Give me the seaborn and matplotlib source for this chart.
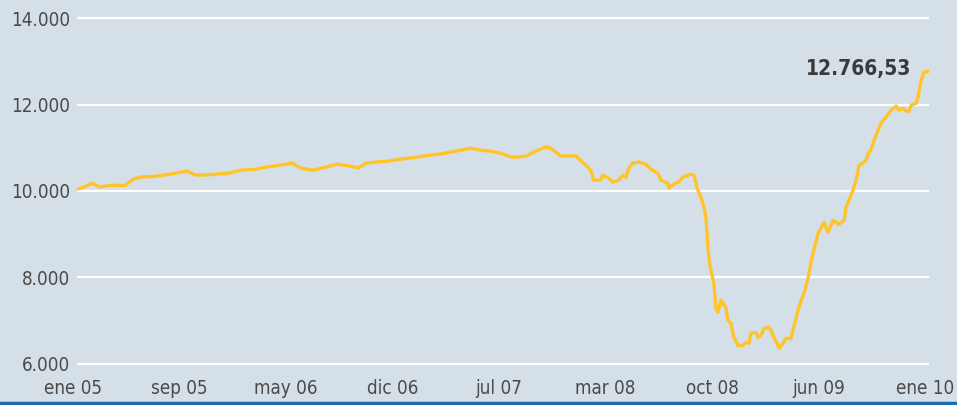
import pandas as pd
import matplotlib.pyplot as plt
import matplotlib.transforms as mtransforms
import seaborn as sns
from matplotlib.lines import Line2D

# datos (mes desde ene 05, valor del indice)
meses = [0.00, 0.56, 1.06, 1.62, 2.33, 3.39, 3.95, 4.44, 5.50, 6.56, 7.76, 8.32,
         9.03, 10.65, 11.50, 12.55, 13.26, 14.32, 15.16, 15.73, 16.64, 17.49,
         18.27, 19.25, 19.82, 20.31, 21.02, 21.86, 22.78, 23.84, 24.89, 25.95,
         27.01, 27.72, 28.42, 29.13, 29.83, 30.18, 30.68, 31.59, 32.30, 33.00,
         33.36, 33.71, 34.06, 35.12, 35.47, 35.83, 36.18, 36.39, 36.88, 37.02,
         37.45, 37.73, 38.15, 38.43, 38.65, 38.86, 39.14, 39.56, 40.06, 40.41,
         40.90, 41.11, 41.61, 41.68, 42.03, 42.38, 42.67, 43.23, 43.44, 43.72,
         43.94, 44.15, 44.29, 44.43, 44.50, 44.64, 44.85, 44.99, 45.13, 45.35,
         45.70, 45.84, 46.05, 46.26, 46.54, 46.90, 47.11, 47.32, 47.46, 47.81,
         47.95, 48.17, 48.38, 48.73, 48.87, 49.08, 49.37, 49.44, 49.72, 49.93,
         50.28, 50.42, 50.78, 50.99, 51.20, 51.48, 51.69, 51.83, 52.19, 52.61,
         52.89, 53.24, 53.67, 54.02, 54.16, 54.37, 54.65, 54.87, 55.08, 55.36,
         55.57, 55.71, 55.92, 56.13, 56.42, 56.63, 56.98, 57.33, 57.69, 57.90,
         58.18, 58.39, 58.60, 58.74, 59.10, 59.24, 59.45, 59.66, 60.00]
valores = [10040, 10100, 10180, 10090, 10130, 10130, 10270, 10320, 10340, 10390,
           10460, 10370, 10370, 10410, 10480, 10500, 10550, 10600, 10645, 10530,
           10480, 10550, 10620, 10575, 10530, 10640, 10670, 10690, 10735, 10780,
           10830, 10875, 10945, 10990, 10945, 10920, 10875, 10830, 10780, 10800,
           10920, 11015, 10990, 10900, 10810, 10810, 10710, 10600, 10480, 10250,
           10250, 10365, 10295, 10205, 10250, 10365, 10320, 10530, 10645, 10670,
           10620, 10505, 10410, 10250, 10180, 10065, 10160, 10205, 10320, 10390,
           10365, 10020, 9855, 9625, 9395, 8700, 8470, 8170, 7865, 7310, 7195,
           7470, 7310, 7010, 6940, 6615, 6430, 6430, 6500, 6480, 6710, 6730, 6615,
           6660, 6820, 6850, 6780, 6615, 6430, 6360, 6480, 6590, 6590, 6780, 7240,
           7470, 7635, 7980, 8350, 8560, 9020, 9275, 9045, 9325, 9230, 9325, 9625,
           9790, 10020, 10250, 10600, 10645, 10715, 10875, 10945, 11175, 11410,
           11570, 11710, 11870, 11965, 11870, 11915, 11845, 11845, 11985, 12030,
           12195, 12565, 12750, 12766.53]
etiquetas_x = ["ene 05", "sep 05", "may 06", "dic 06", "jul 07", "mar 08",
               "oct 08", "jun 09", "ene 10"]
ticks_y = [6000, 8000, 10000, 12000, 14000]
etiquetas_y = ["6.000", "8.000", "10.000", "12.000", "14.000"]

df = pd.DataFrame({"mes": meses, "valor": valores})

fondo = "#d5dfe7"
sns.set_style("white", {"axes.facecolor": fondo, "figure.facecolor": fondo})
plt.rcParams["font.family"] = ["DejaVu Sans"]
plt.rcParams["font.stretch"] = "condensed"

fig = plt.figure(figsize=(9.57, 4.05), dpi=100)
ax = fig.add_axes([77 / 957, 0.0906, 852 / 957, 0.8756])

sns.lineplot(data=df, x="mes", y="valor", ax=ax, color="#ffc428", linewidth=2.4, zorder=3)

ax.set_xlim(0, 60)
ax.set_ylim(5900, 14100)
ax.set_yticks(ticks_y)
ax.set_yticklabels(etiquetas_y)
ax.set_xticks([i * 7.5 for i in range(len(etiquetas_x))])
ax.set_xticklabels(etiquetas_x)
ax.tick_params(axis="both", length=0, labelsize=13.5, labelcolor="#4a4a4a")
ax.tick_params(axis="y", pad=5)
ax.tick_params(axis="x", pad=8)
ax.set_xlabel("")
ax.set_ylabel("")
ax.grid(axis="y", color="white", linewidth=1.6, zorder=1)
ax.set_axisbelow(True)
sns.despine(ax=ax, left=True, bottom=True)

# las etiquetas del eje x van un poco a la izquierda
desplaza = mtransforms.ScaledTranslation(-4 / 100, 0, fig.dpi_scale_trans)
for lab in ax.get_xticklabels():
    lab.set_transform(lab.get_transform() + desplaza)

# valor final
ax.annotate("12.766,53", xy=(meses[-1], valores[-1]), xytext=(-13, 2),
            textcoords="offset points", ha="right", va="center",
            fontsize=15, fontweight="bold", color="#3a3a3a")

# linea azul inferior
fig.add_artist(Line2D([0, 1], [0.004, 0.004], transform=fig.transFigure,
                      color="#1a6bb0", linewidth=2.5))

plt.savefig("out.png", dpi=100, facecolor=fondo)
